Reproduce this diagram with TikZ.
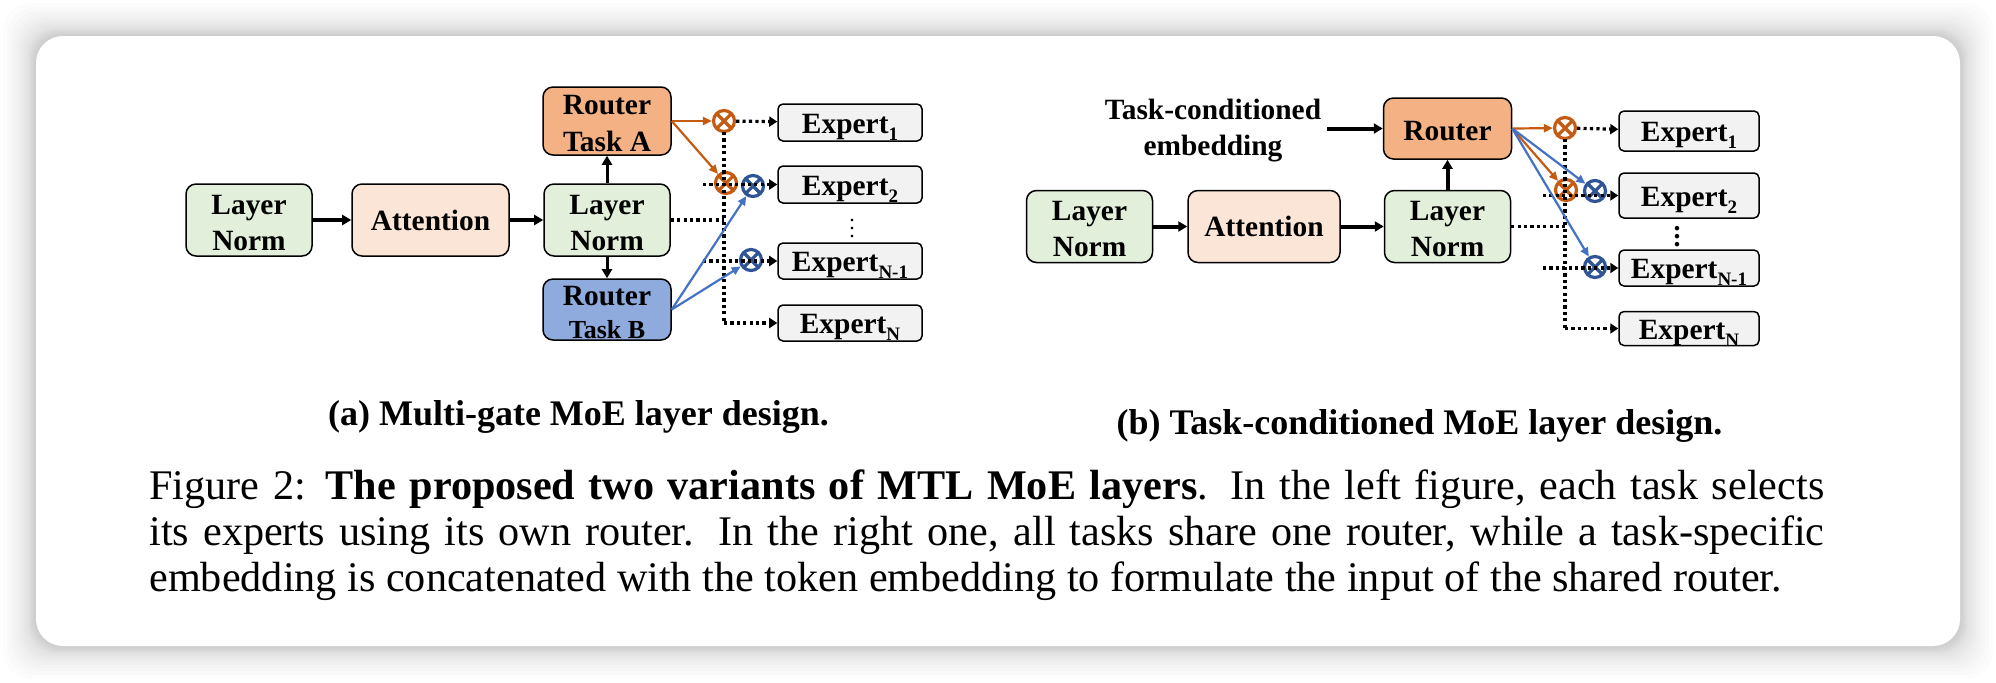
\documentclass[tikz,border=0pt]{standalone}
\usepackage{fontspec}
\setmainfont{Liberation Serif}
\usetikzlibrary{
  arrows.meta,
  chains,
  scopes
}
\definecolor{normgreen}{HTML}{E2EFDA}
\definecolor{attnpeach}{HTML}{FBE5D6}
\definecolor{routerorange}{HTML}{F4B183}
\definecolor{routerblue}{HTML}{8FAADC}
\definecolor{expertgray}{HTML}{F2F2F2}
\definecolor{lineorange}{HTML}{C55A11}
\definecolor{lineblue}{HTML}{4472C4}
\definecolor{gateblue}{HTML}{2F5597}
\newcommand{\expsub}[1]{\smash{\raisebox{-3.6pt}{\fontsize{9.5}{9.5}\selectfont #1}}}
\newcommand{\topgap}{\rule{0pt}{12.5pt}}

\begin{document}
\begin{tikzpicture}[
      x=0.5pt,y=-0.5pt,
      box/.style={
         rectangle,
         rounded corners=5pt,
         draw=black,
         line width=0.75pt,
         inner sep=0pt,
         align=center,
         font=\fontsize{14.7}{18}\selectfont\bfseries,
      },
      wh/.style 2 args={minimum width=#1,minimum height=#2},
      norm/.style={box,fill=normgreen,wh={63pt}{36pt}},
      attn/.style={box,fill=attnpeach},
      router/.style={box,fill=routerorange},
      expert/.style={box,rounded corners=2.5pt,fill=expertgray,text height=12pt,text depth=1.5pt},
      gate/.style={
         circle,
         draw=#1,
         line width=1.6pt,
         inner sep=0pt,
         minimum size=10.5pt,
         path picture={
            \draw[#1,line width=1.6pt] (path picture bounding box.north west) -- (path picture bounding box.south east);
            \draw[#1,line width=1.6pt] (path picture bounding box.north east) -- (path picture bounding box.south west);
         }
      },
      label/.style={inner sep=0pt,align=center,font=\fontsize{14.7}{18}\selectfont\bfseries},
      subcap/.style={inner sep=0pt,anchor=base,font=\fontsize{18}{22}\selectfont\bfseries},
      point/.style={coordinate},>={Triangle[length=4.5pt,width=5pt]},
      tip/.style={->,line width=1.5pt,shorten >=0.007pt},
      thicktip/.style={->,line width=2pt,shorten >=0.007pt},
      dotline/.style={line width=1.6pt,dash pattern=on 1.6pt off 1.6pt},
      dottip/.style={-{Triangle[length=4pt,width=5pt]},dotline,shorten >=0.007pt},
      orangetip/.style={-{Triangle[length=4.5pt,width=4pt]},draw=lineorange,line width=1.1pt,shorten >=0.007pt},
      bluetip/.style={-{Triangle[length=4.5pt,width=4pt]},draw=lineblue,line width=1.1pt,shorten >=0.007pt},
    ]
    \useasboundingbox (0,0) rectangle (1996,682);
    % soft shadow under the card
    \foreach \grow in {1,2,3,4,5,6,7,8,10,12,14,16,19,22,25,29,33} {
       \fill[black,opacity=0.012,rounded corners=14pt] (36-\grow,36-\grow) rectangle (1960+\grow,646+\grow);
    }
    \fill[white,rounded corners=13.5pt] (36,36) rectangle (1960,646);

    % left variant
    \node (normA) [norm] at (249,220) {\topgap Layer\\Norm};
    \node (attnA) [attn,wh={78.5pt}{36pt}] at (430.5,220) {Attention};
    \node (normB) [norm] at (607,220) {\topgap Layer\\Norm};
    \node (routerA) [router,wh={64pt}{34pt},font=\fontsize{14.7}{18.5}\selectfont\bfseries] at (607,121) {\topgap Router\\Task A};
    \node (routerB) [box,fill=routerblue,wh={64pt}{30.5pt},font=\fontsize{14.7}{16.5}\selectfont\bfseries] at (607,309.5) {\topgap Router\\{\fontsize{13}{13}\selectfont Task B}};
    \node (expA1) [expert,wh={72pt}{18.5pt}] at (850,122.5) {Expert\expsub{1}};
    \node (expA2) [expert,wh={72pt}{18.5pt}] at (850,184.5) {Expert\expsub{2}};
    \node (expA3) [expert,wh={72pt}{18pt}] at (850,261) {Expert\expsub{N-1}};
    \node (expA4) [expert,wh={72pt}{18pt}] at (850,323) {Expert\expsub{N}};
    \node (gateA1) [gate=lineorange] at (724,121) {};
    \node (gateA2) [gate=lineorange] at (726,183) {};
    \node (gateA3) [gate=gateblue] at (753,186) {};
    \node (gateA4) [gate=gateblue] at (751,260) {};
    \node (dotsA) [inner sep=0pt,font=\fontsize{11}{11}\selectfont] at (852,223) {$\vdots$};
    \node (busA1) [point] at (724,132) {};
    \node (busA2) [point] at (724,220) {};
    \node (busA3) [point] at (724,323) {};
    \node (tailA2) [point] at (703,184.5) {};
    \node (tailA3) [point] at (703,261) {};
    \node (capA) [subcap] at (578.5,425) {(a) Multi-gate MoE layer design.};

    % right variant
    \node (normC) [norm] at (1089.5,226.5) {\topgap Layer\\Norm};
    \node (attnC) [attn,wh={76pt}{36pt}] at (1264,226.5) {Attention};
    \node (normD) [norm] at (1447.5,226.5) {\topgap Layer\\Norm};
    \node (routerC) [router,wh={64pt}{30.5pt}] at (1447.5,128.5) {\topgap Router};
    \node (embed) [label] at (1213,131) {Task-conditioned\\embedding};
    \node (embedin) [point] at (1327,128.5) {};
    \node (expC1) [expert,wh={70pt}{20pt}] at (1689,131) {Expert\expsub{1}};
    \node (expC2) [expert,wh={70pt}{22.5pt}] at (1689,195.5) {Expert\expsub{2}};
    \node (expC3) [expert,wh={70pt}{18pt}] at (1689,268) {Expert\expsub{N-1}};
    \node (expC4) [expert,wh={70pt}{17pt}] at (1689,328.5) {Expert\expsub{N}};
    \node (gateC1) [gate=lineorange] at (1565,128) {};
    \node (gateC2) [gate=lineorange] at (1566,190) {};
    \node (gateC3) [gate=gateblue] at (1595,191) {};
    \node (gateC4) [gate=gateblue] at (1595,267) {};
    \node (dotsC) [inner sep=0pt,font=\fontsize{14}{14}\selectfont\bfseries] at (1677,231) {$\vdots$};
    \node (busC1) [point] at (1565,139) {};
    \node (busC2) [point] at (1565,226.5) {};
    \node (busC3) [point] at (1565,328.5) {};
    \node (tailC2) [point] at (1543,195.5) {};
    \node (tailC3) [point] at (1543,268) {};
    \node (capC) [subcap] at (1419.5,434) {(b) Task-conditioned MoE layer design.};

    \node (caption) [inner sep=0pt,anchor=west,text width=837.5pt,align=justify,font=\fontsize{21.1}{23}\selectfont] at (149,535.5) {Figure 2: \textbf{The proposed two variants of MTL MoE layers}. In the left figure, each task selects\linebreak its experts using its own router. In the right one, all tasks share one router, while a task-specific\linebreak embedding is concatenated with the token embedding to formulate the input of the shared router.};

  { [start chain]
       \chainin (normA);
       \chainin (attnA)    [join=by thicktip];
       \chainin (normB)    [join=by thicktip];
  }
  { [start chain]
       \chainin (normB);
       \chainin (routerA)  [join=by tip];
  }
  { [start chain]
       \chainin (normB);
       \chainin (routerB)  [join=by tip];
  }
  { [start chain]
       \chainin (normB);
       \chainin (busA2)    [join=by dotline];
  }
  { [start chain]
       \chainin (busA1);
       \chainin (busA3)    [join=by dotline];
       \chainin (expA4)    [join=by dottip];
  }
  { [start chain]
       \chainin (gateA1);
       \chainin (expA1)    [join=by dottip];
  }
  { [start chain]
       \chainin (tailA2);
       \chainin (expA2)    [join=by dottip];
  }
  { [start chain]
       \chainin (tailA3);
       \chainin (expA3)    [join=by dottip];
  }
  \draw [orangetip] (routerA.east) -- (gateA1);
  \draw [orangetip] (routerA.east) -- (gateA2);
  \draw [bluetip] (routerB.east) -- (gateA3);
  \draw [bluetip] (routerB.east) -- (gateA4);

  { [start chain]
       \chainin (normC);
       \chainin (attnC)    [join=by thicktip];
       \chainin (normD)    [join=by thicktip];
  }
  { [start chain]
       \chainin (normD);
       \chainin (routerC)  [join=by thicktip];
  }
  { [start chain]
       \chainin (embedin);
       \chainin (routerC)  [join=by thicktip];
  }
  { [start chain]
       \chainin (normD);
       \chainin (busC2)    [join=by dotline];
  }
  { [start chain]
       \chainin (busC1);
       \chainin (busC3)    [join=by dotline];
       \chainin (expC4)    [join=by dottip];
  }
  { [start chain]
       \chainin (gateC1);
       \chainin (expC1)    [join=by dottip];
  }
  { [start chain]
       \chainin (tailC2);
       \chainin (expC2)    [join=by dottip];
  }
  { [start chain]
       \chainin (tailC3);
       \chainin (expC3)    [join=by dottip];
  }
  \draw [orangetip] (routerC.east) -- (gateC1);
  \draw [orangetip] (routerC.east) -- (gateC2);
  \draw [bluetip] (routerC.east) -- (gateC3);
  \draw [bluetip] (routerC.east) -- (gateC4);
\end{tikzpicture}
\end{document}
